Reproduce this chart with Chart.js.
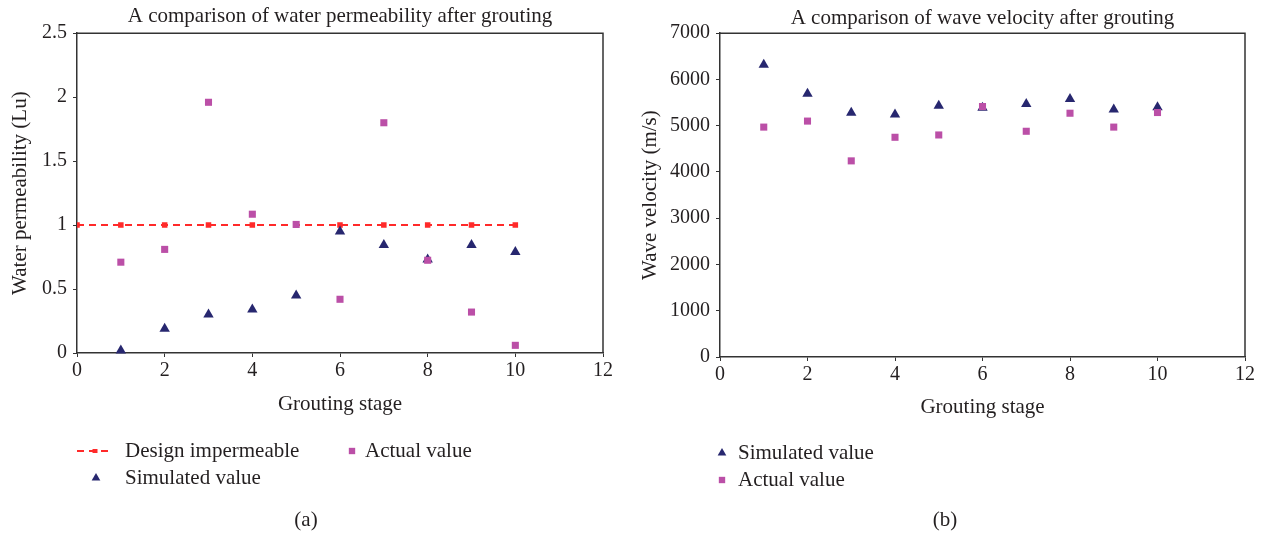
<!DOCTYPE html>
<html>
<head>
<meta charset="utf-8">
<title>Grouting comparison</title>
<script src="https://cdn.jsdelivr.net/npm/chart.js@4.4.1/dist/chart.umd.min.js"></script>
<style>
    body { margin: 0; background: #fff; width: 1271px; height: 537px; position: relative; overflow: hidden; }
    canvas { position: absolute; top: 0; }
    #permChart { left: 0; }
    #velChart { left: 635px; }
</style>
</head>
<body>
<canvas id="permChart" width="635" height="537"></canvas>
<canvas id="velChart" width="636" height="537"></canvas>
<script>
// Data
let stages = [1, 2, 3, 4, 5, 6, 7, 8, 9, 10];
let designStages = [0, 1, 2, 3, 4, 5, 6, 7, 8, 9, 10];
let designValues = [1, 1, 1, 1, 1, 1, 1, 1, 1, 1, 1];
let permSimulated = [0.02, 0.19, 0.30, 0.34, 0.45, 0.95, 0.845, 0.73, 0.845, 0.79];
let permActual = [0.71, 0.81, 1.96, 1.085, 1.005, 0.42, 1.80, 0.725, 0.32, 0.06];
let velSimulated = [6320, 5690, 5280, 5240, 5430, 5390, 5470, 5580, 5350, 5400];
let velActual = [4970, 5100, 4240, 4750, 4800, 5415, 4880, 5270, 4970, 5285];
// Tick labels
let stageTicks = [0, 2, 4, 6, 8, 10, 12];
let permTicks = [0, 0.5, 1, 1.5, 2, 2.5];
let velTicks = [0, 1000, 2000, 3000, 4000, 5000, 6000, 7000];

let textColor = "#231f20";
let axisColor = "#333333";
let navy = "#27276f";
let magenta = "#bb4fa7";
let red = "#ff2a2a";
let serif = "'Liberation Serif', 'Times New Roman', serif";

function points(xs, ys) 
{
    return xs.map((x, i) => ({ x: x, y: ys[i] }));
}

// Draws the top and right sides of the plot box
let framePlugin = 
{
    id: "frame",
    beforeDatasetsDraw(chart) 
    {
        let a = chart.chartArea;
        let ctx = chart.ctx;
        ctx.save();
        ctx.strokeStyle = axisColor;
        ctx.lineWidth = 1.5;
        ctx.beginPath();
        ctx.moveTo(a.left, a.top);
        ctx.lineTo(a.right, a.top);
        ctx.lineTo(a.right, a.bottom);
        ctx.stroke();
        ctx.restore();
    }
};

function drawMarker(ctx, style, x, y, r) 
{
    ctx.beginPath();
    if (style === "triangle") 
    {
        ctx.moveTo(x, y - r);
        ctx.lineTo(x + r * 0.866, y + r * 0.5);
        ctx.lineTo(x - r * 0.866, y + r * 0.5);
        ctx.closePath();
    }
    else 
    {
        let s = r * Math.SQRT1_2;
        ctx.rect(x - s, y - s, 2 * s, 2 * s);
    }
    ctx.fill();
}

// Legend under the plot, laid out like the figure (items placed by hand)
let notePlugin = 
{
    id: "note",
    afterDraw(chart, args, opts) 
    {
        let ctx = chart.ctx;
        ctx.save();
        ctx.font = "21px " + serif;
        ctx.textBaseline = "middle";
        for (let item of opts.items) 
        {
            let ds = chart.data.datasets[item.index];
            if (ds.showLine) 
            {
                ctx.strokeStyle = ds.borderColor;
                ctx.lineWidth = ds.borderWidth;
                ctx.setLineDash(ds.borderDash);
                ctx.beginPath();
                ctx.moveTo(item.x - 18, item.y);
                ctx.lineTo(item.x + 17, item.y);
                ctx.stroke();
                ctx.setLineDash([]);
                ctx.fillStyle = ds.borderColor;
                ctx.fillRect(item.x - 2.5, item.y - 2, 5, 4);
            }
            else 
            {
                ctx.fillStyle = ds.backgroundColor;
                drawMarker(ctx, ds.pointStyle, item.x, item.y, ds.pointStyle === "triangle" ? 5 : 4.5);
            }
            ctx.fillStyle = textColor;
            ctx.textAlign = "left";
            ctx.fillText(ds.label, item.textX, item.y);
        }
        ctx.textAlign = "center";
        ctx.fillText(opts.caption.text, opts.caption.x, opts.caption.y);
        ctx.restore();
    }
};

function makeScales(yTicks, yMax, yTitle, yWidth, xHeight, yTitlePad, xTitlePad) 
{
    return {
        x: 
        {
            type: "linear",
            min: 0,
            max: 12,
            afterBuildTicks: (s) => { s.ticks = stageTicks.map(v => ({ value: v })); },
            afterFit: (s) => { s.height = xHeight; },
            ticks: { color: textColor, font: { family: serif, size: 20 }, padding: 2, callback: (v) => String(v) },
            grid: { drawOnChartArea: false, tickLength: 4, color: axisColor, lineWidth: 1 },
            border: { color: axisColor, width: 1.5 },
            title: { display: true, text: "Grouting stage", color: textColor, font: { family: serif, size: 21 }, padding: { top: 0, bottom: xTitlePad } }
        },
        y: 
        {
            type: "linear",
            min: 0,
            max: yMax,
            afterBuildTicks: (s) => { s.ticks = yTicks.map(v => ({ value: v })); },
            afterFit: (s) => { s.width = yWidth; },
            ticks: { color: textColor, font: { family: serif, size: 20 }, padding: 6, callback: (v) => String(v) },
            grid: { drawOnChartArea: false, tickLength: 4, color: axisColor, lineWidth: 1 },
            border: { color: axisColor, width: 1.5 },
            title: { display: true, text: yTitle, color: textColor, font: { family: serif, size: 21 }, padding: { top: yTitlePad, bottom: 0 } }
        }
    };
}

let triangleStyle = { pointStyle: "triangle", backgroundColor: navy, borderColor: navy, pointRadius: 6, pointHoverRadius: 6, borderWidth: 0, clip: false };
let squareStyle = { pointStyle: "rect", backgroundColor: magenta, borderColor: magenta, pointRadius: 5, pointHoverRadius: 5, borderWidth: 0, clip: false };

new Chart(document.getElementById("permChart"), 
{
    type: "scatter",
    data: 
    {
        datasets: [
            Object.assign({ label: "Actual value", data: points(stages, permActual), order: 0 }, squareStyle),
            Object.assign({ label: "Simulated value", data: points(stages, permSimulated), order: 1 }, triangleStyle),
            {
                label: "Design impermeable",
                data: points(designStages, designValues),
                showLine: true,
                borderColor: red,
                backgroundColor: red,
                borderWidth: 2,
                borderDash: [7, 5],
                pointStyle: "rect",
                pointRadius: 2.5,
                order: 2
            }
        ]
    },
    options: 
    {
        responsive: false,
        animation: false,
        layout: { padding: { left: 0, right: 32, top: 0, bottom: 114 } },
        plugins: 
        {
            legend: { display: false },
            tooltip: { enabled: false },
            title: 
            {
                display: true,
                fullSize: false,
                text: "A comparison of water permeability after grouting",
                color: textColor,
                font: { family: serif, size: 21, weight: "normal" },
                padding: { top: 4, bottom: 4 }
            },
            note: 
            {
                items: [
                    { index: 2, x: 95, y: 451, textX: 125 },
                    { index: 0, x: 352, y: 451, textX: 365 },
                    { index: 1, x: 96, y: 478, textX: 125 }
                ],
                caption: { text: "(a)", x: 306, y: 520 }
            }
        },
        scales: makeScales(permTicks, 2.5, "Water permeability (Lu)", 77, 70, 8, 6)
    },
    plugins: [framePlugin, notePlugin]
});

new Chart(document.getElementById("velChart"), 
{
    type: "scatter",
    data: 
    {
        datasets: [
            Object.assign({ label: "Actual value", data: points(stages, velActual), order: 0 }, squareStyle),
            Object.assign({ label: "Simulated value", data: points(stages, velSimulated), order: 1 }, triangleStyle)
        ]
    },
    options: 
    {
        responsive: false,
        animation: false,
        layout: { padding: { left: 0, right: 26, top: 0, bottom: 114 } },
        plugins: 
        {
            legend: { display: false },
            tooltip: { enabled: false },
            title: 
            {
                display: true,
                fullSize: false,
                text: "A comparison of wave velocity after grouting",
                color: textColor,
                font: { family: serif, size: 21, weight: "normal" },
                padding: { top: 6, bottom: 2 }
            },
            note: 
            {
                items: [
                    { index: 1, x: 87, y: 453, textX: 103 },
                    { index: 0, x: 87, y: 480, textX: 103 }
                ],
                caption: { text: "(b)", x: 310, y: 520 }
            }
        },
        scales: makeScales(velTicks, 7000, "Wave velocity (m/s)", 85, 66, 3, 3)
    },
    plugins: [framePlugin, notePlugin]
});
</script>
</body>
</html>
